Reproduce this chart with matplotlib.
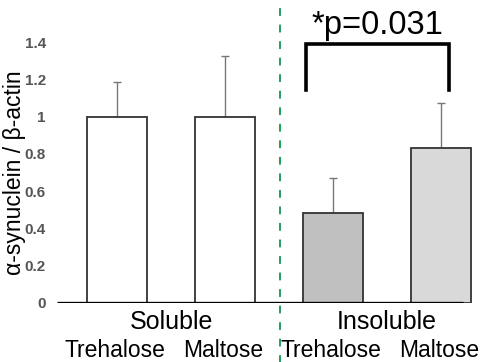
import matplotlib.pyplot as plt

plt.rcParams['font.family'] = ['Liberation Sans', 'DejaVu Sans']

# data
groups = ["Soluble", "Insoluble"]
sugars = ["Trehalose", "Maltose", "Trehalose", "Maltose"]
values = [1.0, 1.0, 0.484, 0.831]
errors = [0.186, 0.325, 0.185, 0.244]
bar_colors = ["white", "white", "#c0c0c0", "#d9d9d9"]
yticks = [0, 0.2, 0.4, 0.6, 0.8, 1.0, 1.2, 1.4]
ytick_labels = ["0", "0.2", "0.4", "0.6", "0.8", "1", "1.2", "1.4"]
p_label = "*p=0.031"

W, H = 482, 362
fig = plt.figure(figsize=(W / 100, H / 100), dpi=100)
# axes in pixel terms: x 57..475, y 303 (0) .. 42 (1.4)
ax = fig.add_axes([57 / W, 59 / H, 418 / W, 261 / H])
ax.set_xlim(-0.556, 3.315)
ax.set_ylim(0, 1.4)

x = list(range(len(values)))
ax.bar(x, values, width=0.556, color=bar_colors, edgecolor="#333333",
       linewidth=1.3, zorder=2)
ax.errorbar(x, values, yerr=[[0] * len(errors), errors], fmt="none",
            ecolor="#777777", elinewidth=1.0, capsize=2.6, capthick=1.0, zorder=1)

# baseline
ax.hlines(0, -0.556, 3.2, color="black", linewidth=2.4, zorder=3)

for s in ax.spines.values():
    s.set_visible(False)
ax.set_xticks([])
ax.set_yticks(yticks)
ax.set_yticklabels(ytick_labels, fontsize=11, fontweight="bold", color="#555555")
ax.tick_params(axis="y", length=0, pad=8)
ax.set_ylabel("\u03b1-synuclein / \u03b2-actin", fontsize=16.5)
ax.yaxis.set_label_coords(-0.075, 0.5)

# group labels and sugar labels
for i, g in enumerate(groups):
    ax.text(2 * i + 0.5, -0.1, g, ha="center", va="center", fontsize=18,
            clip_on=False)
for xi, s in zip(x, sugars):
    ax.text(xi - 0.02, -0.255, s, ha="center", va="center", fontsize=16.5,
            clip_on=False)

# green dashed separator
ax.axvline(1.509, ymin=-0.23, ymax=1.17, color="#1f9e5a", linewidth=1.4,
           linestyle=(0, (4, 4.5)), clip_on=False)

# significance bracket
bx0, bx1, by0, by1 = 1.747, 3.074, 1.143, 1.39
ax.plot([bx0, bx0, bx1, bx1], [by0, by1, by1, by0], color="black",
        linewidth=2.6, solid_joinstyle="miter", clip_on=False)
ax.text(2.41, 1.49, p_label, ha="center", va="center", fontsize=23.5,
        clip_on=False)

fig.savefig("out.png", dpi=100)
